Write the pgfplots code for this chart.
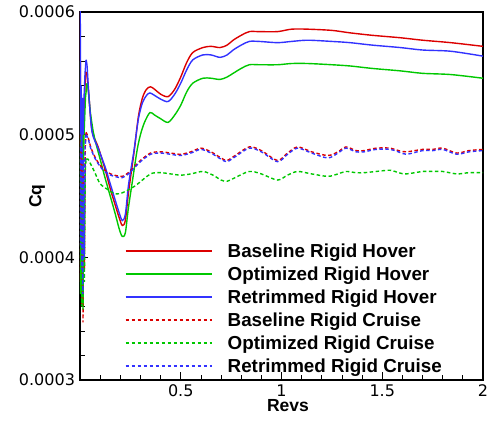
\documentclass[border=0pt]{standalone}
\usepackage{fontspec}
\setmainfont{Liberation Sans}
\newfontfamily\tickfont{DejaVu Sans}
\usepackage{pgfplots}
\pgfplotsset{compat=1.18}
\definecolor{cred}{RGB}{220,0,0}
\definecolor{cgreen}{RGB}{0,200,0}
\definecolor{cblue}{RGB}{50,50,255}
\begin{document}
\begin{tikzpicture}
\begin{axis}[
 name=main, width=403pt, height=368pt, scale only axis,
 xmin=0, xmax=2, ymin=0.0003, ymax=0.0006,
 scaled y ticks=false, scaled x ticks=false,
 xtick={0.5,1,1.5,2}, xticklabels={0.5,1,1.5,2},
 ytick={0.0003,0.0004,0.0005,0.0006}, yticklabels={0.0003,0.0004,0.0005,0.0006},
 minor xtick={0.1,0.2,0.3,0.4,0.6,0.7,0.8,0.9,1.1,1.2,1.3,1.4,1.6,1.7,1.8,1.9},
 minor ytick={0.00032,0.00034,0.00036,0.00038,0.00042,0.00044,0.00046,0.00048,0.00052,0.00054,0.00056,0.00058},
 tick align=inside, tick pos=left,
 major tick length=8pt, minor tick length=5pt,
 every tick/.style={black, line width=1.1pt},
 every minor tick/.style={black, line width=0.8pt},
 axis line style={line width=1.6pt},
 xticklabel style={font=\tickfont\fontsize{16}{18}\selectfont, yshift=-1.5pt},
 yticklabel style={font=\tickfont\fontsize{16}{18}\selectfont, xshift=-1.5pt},
 xlabel={Revs}, ylabel={Cq},
 label style={font=\bfseries\fontsize{17.5}{19}\selectfont},
 xlabel style={at={(axis description cs:0.516,0)}, anchor=base, yshift=-31.5pt},
 ylabel style={at={(axis description cs:0,0.5)}, anchor=center, yshift=43pt},
 legend cell align=left,
 legend image code/.code={\draw[#1] (0pt,0pt) -- (86pt,0pt); \path[draw=none,fill=none] (0pt,0pt) -- (102pt,0pt);},
 legend style={at={(axis description cs:0.1117,0.371)}, anchor=north west, draw=none, fill=none,
   inner sep=0pt, outer sep=0pt, font=\bfseries\fontsize{18.8}{20}\selectfont,
   nodes={inner sep=0pt, text height=14pt, text depth=1pt}, row sep=8pt},
 every axis plot/.append style={line width=1.4pt, mark=none},
]
% early zig-zag parts (no legend)
\addplot[cred, forget plot] coordinates {(0,0.00063) (0.003,0.00049) (0.006,0.00052) (0.009,0.00047) (0.012,0.00051) (0.016,0.00049) (0.02,0.00052) (0.025,0.00054) (0.03,0.000551)};
\addplot[cgreen, forget plot] coordinates {(0,0.00056) (0.003,0.00046) (0.006,0.00051) (0.009,0.00045) (0.012,0.0005) (0.016,0.00047) (0.02,0.0005) (0.027,0.00053) (0.035,0.000542)};
\addplot[cblue, forget plot] coordinates {(0,0.00065) (0.001,0.00062) (0.003,0.0005) (0.006,0.00054) (0.009,0.00049) (0.012,0.00053) (0.016,0.0005) (0.02,0.00053) (0.025,0.00055) (0.03,0.000561)};
\addplot[cred, dash pattern=on 3.5pt off 2.5pt, forget plot] coordinates {(0,0.0005) (0.003,0.00038) (0.006,0.00049) (0.009,0.00036) (0.012,0.00048) (0.015,0.000347) (0.018,0.00047) (0.022,0.00039) (0.026,0.00049) (0.03,0.000502)};
\addplot[cgreen, dash pattern=on 3.5pt off 2.5pt, forget plot] coordinates {(0,0.00048) (0.003,0.00037) (0.006,0.00047) (0.009,0.00036) (0.012,0.00046) (0.015,0.000357) (0.018,0.00046) (0.022,0.00038) (0.026,0.00047) (0.03,0.00048)};
\addplot[cblue, dash pattern=on 3.5pt off 2.5pt, forget plot] coordinates {(0,0.00049) (0.002,0.00041) (0.005,0.0005) (0.008,0.00039) (0.011,0.00049) (0.014,0.00037) (0.017,0.00048) (0.021,0.0004) (0.025,0.00049) (0.03,0.0005)};
% main parts
\addplot[cred, smooth] coordinates {(0.03,0.000551) (0.035,0.000548) (0.045,0.00053) (0.06,0.000503) (0.09,0.00049) (0.124,0.000472) (0.15,0.000456) (0.174,0.000443) (0.195,0.000432) (0.21,0.000426) (0.225,0.00043) (0.24,0.000452) (0.255,0.00047) (0.27,0.000488) (0.29,0.000515) (0.31,0.00053) (0.33,0.000537) (0.35,0.000539) (0.37,0.000537) (0.4,0.000533) (0.437,0.000531) (0.47,0.000537) (0.5,0.000547) (0.53,0.000559) (0.56,0.000567) (0.61,0.000571) (0.65,0.000572) (0.695,0.000571) (0.73,0.000573) (0.76,0.000577) (0.8,0.000581) (0.84,0.000584) (0.89,0.000584) (0.98,0.000584) (1.05,0.000586) (1.13,0.000586) (1.25,0.000585) (1.34,0.000583) (1.45,0.000581) (1.59,0.000579) (1.7,0.000577) (1.84,0.000575) (2.0,0.000572)};
\addlegendentry{Baseline Rigid Hover}
\addplot[cgreen, smooth] coordinates {(0.035,0.000542) (0.04,0.000538) (0.05,0.00052) (0.065,0.000503) (0.074,0.000496) (0.1,0.00048) (0.124,0.000465) (0.15,0.00045) (0.174,0.000436) (0.195,0.000423) (0.21,0.000417) (0.225,0.00042) (0.24,0.00044) (0.26,0.000462) (0.283,0.000487) (0.3,0.0005) (0.32,0.00051) (0.347,0.000518) (0.37,0.000516) (0.4,0.000513) (0.437,0.00051) (0.47,0.000516) (0.5,0.000524) (0.53,0.000535) (0.56,0.000542) (0.61,0.000546) (0.65,0.000546) (0.695,0.000545) (0.73,0.000547) (0.76,0.00055) (0.8,0.000554) (0.84,0.000557) (0.89,0.000557) (0.98,0.000557) (1.05,0.000558) (1.13,0.000558) (1.25,0.000557) (1.34,0.000556) (1.45,0.000554) (1.59,0.000552) (1.7,0.00055) (1.84,0.000549) (2.0,0.000546)};
\addlegendentry{Optimized Rigid Hover}
\addplot[cblue, smooth] coordinates {(0.03,0.000561) (0.035,0.000556) (0.045,0.00053) (0.06,0.000502) (0.09,0.000489) (0.124,0.000474) (0.15,0.00046) (0.174,0.000447) (0.195,0.000436) (0.21,0.00043) (0.225,0.000435) (0.24,0.000458) (0.255,0.000474) (0.268,0.000487) (0.29,0.000513) (0.31,0.000526) (0.33,0.000532) (0.347,0.000534) (0.37,0.000532) (0.4,0.000529) (0.437,0.000527) (0.47,0.000533) (0.5,0.000542) (0.53,0.000553) (0.56,0.000561) (0.61,0.000565) (0.65,0.000565) (0.695,0.000563) (0.73,0.000565) (0.76,0.000569) (0.8,0.000573) (0.84,0.000576) (0.89,0.000576) (0.98,0.000575) (1.05,0.000576) (1.13,0.000577) (1.25,0.000576) (1.34,0.000575) (1.45,0.000573) (1.59,0.000571) (1.7,0.000569) (1.84,0.000568) (2.0,0.000564)};
\addlegendentry{Retrimmed Rigid Hover}
\addplot[cred, dash pattern=on 3.5pt off 2.5pt, smooth] coordinates {(0.03,0.000502) (0.04,0.000498) (0.055,0.000489) (0.08,0.00048) (0.11,0.000473) (0.14,0.000469) (0.17,0.000467) (0.21,0.000466) (0.24,0.000469) (0.27,0.000474) (0.3,0.000479) (0.35,0.000485) (0.4,0.000486) (0.45,0.000485) (0.5,0.000484) (0.55,0.000486) (0.6,0.000489) (0.65,0.000486) (0.7,0.000481) (0.73,0.000479) (0.77,0.000483) (0.84,0.00049) (0.9,0.000487) (0.98,0.000479) (1.03,0.000485) (1.08,0.00049) (1.15,0.000486) (1.23,0.000483) (1.28,0.000486) (1.32,0.00049) (1.37,0.000487) (1.41,0.000487) (1.47,0.000489) (1.54,0.000489) (1.58,0.000487) (1.62,0.000486) (1.7,0.000488) (1.75,0.000488) (1.8,0.000489) (1.87,0.000485) (1.93,0.000487) (2.0,0.000488)};
\addlegendentry{Baseline Rigid Cruise}
\addplot[cgreen, dash pattern=on 3.5pt off 2.5pt, smooth] coordinates {(0.03,0.00048) (0.04,0.00048) (0.05,0.000477) (0.074,0.000469) (0.1,0.00046) (0.14,0.000455) (0.17,0.000452) (0.2,0.000452) (0.24,0.000455) (0.28,0.000459) (0.35,0.000468) (0.4,0.000469) (0.45,0.000468) (0.5,0.000467) (0.55,0.000468) (0.61,0.00047) (0.66,0.000467) (0.7,0.000463) (0.73,0.000462) (0.77,0.000465) (0.84,0.00047) (0.9,0.000468) (0.98,0.000463) (1.03,0.000467) (1.08,0.00047) (1.15,0.000468) (1.23,0.000466) (1.28,0.000468) (1.32,0.00047) (1.37,0.000469) (1.41,0.000469) (1.47,0.00047) (1.54,0.000471) (1.58,0.000469) (1.62,0.000468) (1.7,0.00047) (1.75,0.00047) (1.8,0.00047) (1.87,0.000468) (1.93,0.000469) (2.0,0.000469)};
\addlegendentry{Optimized Rigid Cruise}
\addplot[cblue, dash pattern=on 3.5pt off 2.5pt, smooth] coordinates {(0.03,0.0005) (0.04,0.000497) (0.055,0.000488) (0.08,0.000479) (0.11,0.000472) (0.14,0.000468) (0.17,0.000466) (0.21,0.000465) (0.24,0.000468) (0.27,0.000473) (0.3,0.000478) (0.35,0.000484) (0.4,0.000485) (0.45,0.000484) (0.5,0.000483) (0.55,0.000485) (0.6,0.000488) (0.65,0.000485) (0.7,0.00048) (0.73,0.000478) (0.77,0.000482) (0.84,0.000489) (0.9,0.000486) (0.98,0.000478) (1.03,0.000484) (1.08,0.000489) (1.15,0.000485) (1.23,0.000481) (1.28,0.000485) (1.32,0.000489) (1.37,0.000486) (1.41,0.000486) (1.47,0.000488) (1.54,0.000488) (1.58,0.000486) (1.62,0.000484) (1.7,0.000487) (1.75,0.000487) (1.8,0.000488) (1.87,0.000484) (1.93,0.000486) (2.0,0.000487)};
\addlegendentry{Retrimmed Rigid Cruise}
\end{axis}
\pgfresetboundingbox
\path ([xshift=-80pt,yshift=-41pt]main.south west) rectangle ([xshift=6pt,yshift=12pt]main.north east);
\end{tikzpicture}
\end{document}
